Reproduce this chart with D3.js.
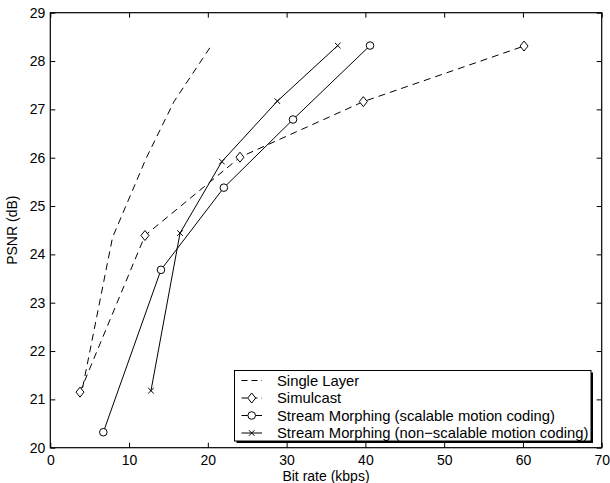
<!DOCTYPE html>
<html>
<head>
<meta charset="utf-8">
<script src="https://cdn.jsdelivr.net/npm/d3@7"></script>
<style>
  body { margin: 0; background: #fff; }
  text { font-family: "Liberation Sans", Arial, Helvetica, sans-serif; fill: #000; }
</style>
</head>
<body>
<svg id="chart"></svg>
<script>
const width = 610;
const height = 483;

// data
const xTicks = [0, 10, 20, 30, 40, 50, 60, 70];
const yTicks = [20, 21, 22, 23, 24, 25, 26, 27, 28, 29];

const singleRate = [4.1, 7.9, 12.2, 15.7, 20.4];
const singlePsnr = [21.24, 24.35, 26.0, 27.16, 28.31];

const simulRate = [3.77, 12.02, 24.08, 39.74, 60.14];
const simulPsnr = [21.15, 24.39, 26.01, 27.16, 28.31];

const scalRate = [6.73, 14.05, 22.03, 30.81, 40.59];
const scalPsnr = [20.32, 23.68, 25.38, 26.79, 28.32];

const nonScalRate = [12.78, 16.47, 21.78, 28.82, 36.49];
const nonScalPsnr = [21.18, 24.44, 25.92, 27.17, 28.32];

const seriesNames = [
  "Single Layer",
  "Simulcast",
  "Stream Morphing (scalable motion coding)",
  "Stream Morphing (non\u2212scalable motion coding)"
];

const series = [
  { name: seriesNames[0], rate: singleRate, psnr: singlePsnr, dash: "7,5", marker: null },
  { name: seriesNames[1], rate: simulRate, psnr: simulPsnr, dash: "7,5", marker: "diamond" },
  { name: seriesNames[2], rate: scalRate, psnr: scalPsnr, dash: null, marker: "circle" },
  { name: seriesNames[3], rate: nonScalRate, psnr: nonScalPsnr, dash: null, marker: "cross" }
];

const plotLeft = 50.3, plotRight = 601.7, plotTop = 12.7, plotBottom = 447.7;

const svg = d3.select("#chart").attr("width", width).attr("height", height);

const x = d3.scaleLinear().domain([0, 70]).range([plotLeft, plotRight]);
const y = d3.scaleLinear().domain([20, 29]).range([plotBottom, plotTop]);

// axes (ticks inward, on all four sides)
const tickLen = 5;
svg.append("g")
  .attr("transform", `translate(0,${plotBottom})`)
  .call(d3.axisBottom(x).tickValues(xTicks).tickSizeInner(-tickLen).tickSizeOuter(0).tickPadding(4))
  .call(g => g.select(".domain").remove())
  .call(g => g.selectAll("text").attr("font-size", "14px").attr("dy", "0.95em"));

svg.append("g")
  .attr("transform", `translate(${plotLeft},0)`)
  .call(d3.axisLeft(y).tickValues(yTicks).tickSizeInner(-tickLen).tickSizeOuter(0).tickPadding(5))
  .call(g => g.select(".domain").remove())
  .call(g => g.selectAll("text").attr("font-size", "14px"));

svg.append("g")
  .attr("transform", `translate(0,${plotTop})`)
  .call(d3.axisTop(x).tickValues(xTicks).tickSizeInner(-tickLen).tickSizeOuter(0).tickFormat(""))
  .call(g => g.select(".domain").remove());

svg.append("g")
  .attr("transform", `translate(${plotRight},0)`)
  .call(d3.axisRight(y).tickValues(yTicks).tickSizeInner(-tickLen).tickSizeOuter(0).tickFormat(""))
  .call(g => g.select(".domain").remove());

svg.selectAll(".tick line").attr("stroke", "#000");

// box
svg.append("rect")
  .attr("x", plotLeft).attr("y", plotTop)
  .attr("width", plotRight - plotLeft).attr("height", plotBottom - plotTop)
  .attr("fill", "none").attr("stroke", "#000").attr("stroke-width", 1.2);

// axis labels
svg.append("text")
  .attr("x", (plotLeft + plotRight) / 2).attr("y", 480.5)
  .attr("text-anchor", "middle").attr("font-size", "14px")
  .text("Bit rate (kbps)");

svg.append("text")
  .attr("transform", `translate(17,${(plotTop + plotBottom) / 2}) rotate(-90)`)
  .attr("text-anchor", "middle").attr("font-size", "14px")
  .text("PSNR (dB)");

// markers
function drawMarker(g, type, cx, cy) {
  if (type === "diamond") {
    g.append("path")
      .attr("d", `M${cx},${cy - 5}L${cx + 4},${cy}L${cx},${cy + 5}L${cx - 4},${cy}Z`)
      .attr("fill", "#fff").attr("stroke", "#000").attr("stroke-width", 1);
  } else if (type === "circle") {
    g.append("circle")
      .attr("cx", cx).attr("cy", cy).attr("r", 3.8)
      .attr("fill", "#fff").attr("stroke", "#000").attr("stroke-width", 1);
  } else if (type === "cross") {
    const s = 2.8;
    g.append("path")
      .attr("d", `M${cx - s},${cy - s}L${cx + s},${cy + s}M${cx - s},${cy + s}L${cx + s},${cy - s}`)
      .attr("stroke", "#000").attr("stroke-width", 1);
  }
}

const line = d3.line().x(d => x(d[0])).y(d => y(d[1]));

series.forEach(s => {
  const pts = s.rate.map((r, i) => [r, s.psnr[i]]);
  const g = svg.append("g");
  g.append("path")
    .datum(pts)
    .attr("d", line)
    .attr("fill", "none")
    .attr("stroke", "#000")
    .attr("stroke-width", 1)
    .attr("stroke-dasharray", s.dash);
  if (s.marker) pts.forEach(p => drawMarker(g, s.marker, x(p[0]), y(p[1])));
});

// legend
const lg = svg.append("g");
const lx0 = 234.5, ly0 = 370.5, lw = 356.5, lh = 70.5;
lg.append("rect")
  .attr("x", lx0 + 2).attr("y", ly0 + 2).attr("width", lw).attr("height", lh)
  .attr("fill", "#000");
lg.append("rect")
  .attr("x", lx0).attr("y", ly0).attr("width", lw).attr("height", lh)
  .attr("fill", "#fff").attr("stroke", "#000").attr("stroke-width", 1);

series.forEach((s, i) => {
  const cy = 380.5 + i * 17.5;
  const item = lg.append("g");
  item.append("line")
    .attr("x1", 241.5).attr("x2", 262).attr("y1", cy).attr("y2", cy)
    .attr("stroke", "#000").attr("stroke-width", 1)
    .attr("stroke-dasharray", s.dash ? "6,4" : null);
  if (s.marker) drawMarker(item, s.marker, 251.7, cy);
  item.append("text")
    .attr("x", 277).attr("y", cy).attr("dy", "0.35em")
    .attr("font-size", "14.8px")
    .text(s.name);
});
</script>
</body>
</html>
